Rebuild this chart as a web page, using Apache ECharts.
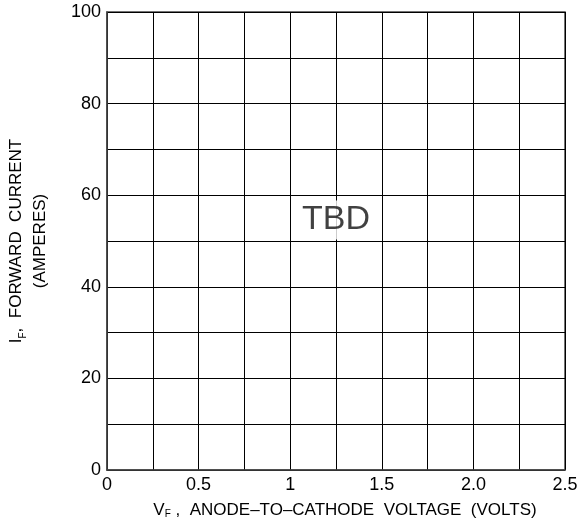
<!DOCTYPE html>
<html>
<head>
<meta charset="utf-8">
<script src="https://cdn.jsdelivr.net/npm/echarts@6/dist/echarts.min.js"></script>
<style>html,body{margin:0;padding:0;background:#fff}#c{width:582px;height:527px}</style>
</head>
<body>
<div id="c"></div>
<script>
// axis ranges and tick labels
var xTickValues = [0, 0.5, 1, 1.5, 2, 2.5];
var xTickLabels = ['0', '0.5', '1', '1.5', '2.0', '2.5'];
var yTickValues = [0, 20, 40, 60, 80, 100];
var yTickLabels = ['0', '20', '40', '60', '80', '100'];
// annotation placeholder (no curve data yet)
var noteX = [1.25];
var noteY = [55];
var noteText = ['TBD'];

var FONT = '"Liberation Sans", Arial, sans-serif';
var chart = echarts.init(document.getElementById('c'), null, {renderer: 'canvas'});

function lookup(vals, labels, v) {
  for (var i = 0; i < vals.length; i++) if (Math.abs(vals[i] - v) < 1e-6) return labels[i];
  return '';
}

var option = {
  animation: false,
  backgroundColor: '#fff',
  grid: {left: 107, right: 17, top: 12, bottom: 57, show: true, borderColor: '#444', borderWidth: 1.5,
         containLabel: false, outerBoundsMode: 'none'},
  xAxis: {
    type: 'value', min: 0, max: 2.5, interval: 0.25,
    axisLine: {show: true, lineStyle: {color: '#444', width: 1.5}},
    axisTick: {show: false},
    splitLine: {show: true, lineStyle: {color: '#000', width: 1}},
    axisLabel: {
      fontFamily: FONT, fontSize: 18, color: '#000', margin: 6,
      showMinLabel: true, showMaxLabel: true, hideOverlap: false,
      formatter: function (v) { return lookup(xTickValues, xTickLabels, v); }
    },
    name: '{v|V}{s|F}{t| ,  ANODE\u2013TO\u2013CATHODE  VOLTAGE  (VOLTS)}',
    nameLocation: 'middle', nameGap: 31,
    nameTextStyle: {
      fontFamily: FONT, color: '#000', padding: [0, 0, 0, 18],
      rich: {
        v: {fontFamily: FONT, fontSize: 17, color: '#000'},
        s: {fontFamily: FONT, fontSize: 10, color: '#000', verticalAlign: 'bottom', padding: [8, 0, 0, 0]},
        t: {fontFamily: FONT, fontSize: 17, color: '#000'}
      }
    }
  },
  yAxis: {
    type: 'value', min: 0, max: 100, interval: 10,
    axisLine: {show: true, lineStyle: {color: '#444', width: 1.5}},
    axisTick: {show: false},
    splitLine: {show: true, lineStyle: {color: '#000', width: 1}},
    axisLabel: {
      fontFamily: FONT, fontSize: 18, color: '#000', margin: 6,
      showMinLabel: true, showMaxLabel: true, hideOverlap: false,
      formatter: function (v) { return lookup(yTickValues, yTickLabels, v); }
    },
    name: '{v|I}{s|F}{t|,  FORWARD  CURRENT}\n{t|(AMPERES)}',
    nameLocation: 'middle', nameRotate: 90, nameGap: 55,
    nameTextStyle: {
      fontFamily: FONT, color: '#000', lineHeight: 24,
      rich: {
        v: {fontFamily: FONT, fontSize: 17, color: '#000', lineHeight: 24},
        s: {fontFamily: FONT, fontSize: 10, color: '#000', verticalAlign: 'bottom', lineHeight: 24},
        t: {fontFamily: FONT, fontSize: 17, color: '#000', lineHeight: 24}
      }
    }
  },
  series: [{
    type: 'scatter',
    symbolSize: 0,
    data: noteX.map(function (x, i) { return [x, noteY[i], noteText[i]]; }),
    label: {
      show: true, position: 'inside', offset: [0, 2],
      formatter: function (p) { return p.data[2]; },
      fontFamily: FONT, fontSize: 34, color: '#111', lineHeight: 36,
      backgroundColor: '#fff', padding: [3, 2, 0, 2]
    },
    silent: true
  }]
};
chart.setOption(option);
</script>
</body>
</html>
